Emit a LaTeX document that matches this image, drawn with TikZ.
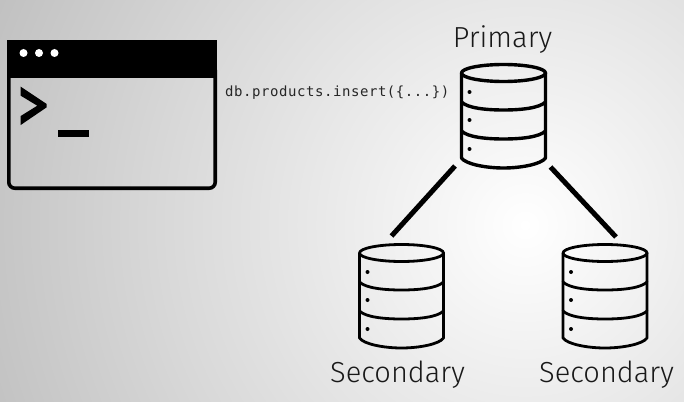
\documentclass[tikz,border=0pt]{standalone}
\usepackage{fontspec}
\setmainfont{Fira Sans Light}
\newfontfamily\codefont[LetterSpace=4]{DejaVu Sans Mono}
\pgfdeclareradialshading{bgshade}{\pgfpoint{0bp}{0bp}}{
  color(0bp)=(white);
  color(5.5bp)=(white!94!black);
  color(14bp)=(white!85!black);
  color(22bp)=(white!76!black);
  color(33bp)=(white!64!black);
  color(50bp)=(white!58!black)}
\tikzset{
  x=1pt,y=-1pt,
  dbbox/.style={minimum width=86pt,minimum height=106pt,inner sep=0pt,outer sep=0pt},
  dblabel/.style={font=\fontsize{29}{32}\selectfont,inner sep=0pt,text=black!90},
  link/.style={line width=5pt,black},
  winline/.style={line width=3.6pt,black},
}
\newcommand{\dbcyl}[3]{%
  \node[dbbox] (#1) at (#2) {};
  \begin{scope}[shift={(#2)},line width=#3,line join=round,line cap=round,black]
    \draw (-42,-43) arc[start angle=180,end angle=-180,x radius=42,y radius=8.5];
    \draw (-42,-43) -- (-42,42) .. controls (-38,48) and (-18,52) .. (0,52) .. controls (18,52) and (38,48) .. (42,42) -- (42,-43);
    \draw (-42,-14) .. controls (-36,-8) and (-18,-6) .. (0,-6) .. controls (18,-6) and (36,-8) .. (42,-14);
    \draw (-42,15) .. controls (-36,21) and (-18,23) .. (0,23) .. controls (18,23) and (36,21) .. (42,15);
    \fill (-34,-24) circle (2) (-34,4) circle (2) (-34,33) circle (2);
  \end{scope}}
\begin{document}
\begin{tikzpicture}
\useasboundingbox (0,0) rectangle (684,401);
\begin{scope}
  \clip (0,0) rectangle (684,401);
  \shade[shading=bgshade] (525,225) circle (640);
\end{scope}
% terminal window
\node[minimum width=210pt,minimum height=150pt,inner sep=0pt,outer sep=0pt] (win) at (112,115) {};
\fill[black] (win.north west) rectangle ([yshift=-38pt]win.north east);
\draw[winline,rounded corners=6pt] ([yshift=-30pt]win.north west) ++(1.8,0) -- ([xshift=1.8pt,yshift=1.8pt]win.south west) -- ([xshift=-1.8pt,yshift=1.8pt]win.south east) -- ([xshift=-1.8pt,yshift=-30pt]win.north east);
\fill[white] (23.5,53) circle (4) (39,53) circle (4) (54.5,53) circle (4);
\fill[black] (20.7,86.7) -- (46.7,104) -- (46.7,107.3) -- (20.7,125) -- (20.7,116) -- (37.3,105.7) -- (20.7,95.7) -- cycle;
\fill[black] (58,129.5) rectangle (89,136.5);
% databases
\dbcyl{p}{503.5,116}{3.4pt}
\dbcyl{sa}{401.5,296}{2.8pt}
\dbcyl{sb}{605,296}{2.8pt}
% links
\draw[link] ([shift={(-5.5pt,3pt)}]p.south west) -- ([shift={(-10pt,7pt)}]sa.north);
\draw[link] ([shift={(4pt,2pt)}]p.south east) -- ([shift={(11pt,6pt)}]sb.north);
% labels
\node[dblabel] (lp) at (502.5,39.5) {Primary};
\node[dblabel] (lsa) at (397.5,374.5) {Secondary};
\node[dblabel] (lsb) at (606.5,374.5) {Secondary};
\node[inner sep=0pt,anchor=west,text=black!85] (cmd) at (225,92.5) {\codefont\fontsize{14}{16}\selectfont db.products.insert(\{...\})};
\end{tikzpicture}
\end{document}
